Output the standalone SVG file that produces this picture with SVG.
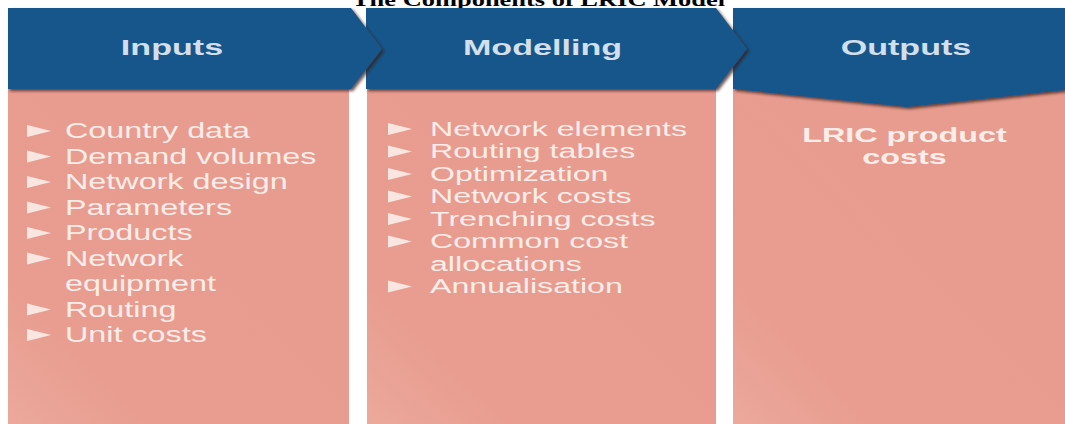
<svg xmlns="http://www.w3.org/2000/svg" width="1065" height="424" viewBox="0 0 1065 424">
  <defs>
    <filter id="hdrShadow" x="-5%" y="-10%" width="115%" height="130%">
      <feDropShadow dx="2" dy="2" stdDeviation="1.4" flood-color="#3b1d14" flood-opacity="0.75"/>
    </filter>
    <linearGradient id="bodyFill" x1="0" y1="1" x2="0.6" y2="0.4">
      <stop offset="0" stop-color="#eba99c"/>
      <stop offset="0.35" stop-color="#e89d90"/>
      <stop offset="1" stop-color="#e89c8f"/>
    </linearGradient>
    <polygon id="bullet" points="0,-6 24,0 0,6"/>
    <style>
      .hdr { fill: #14568a; }
      .body { fill: url(#bodyFill); }
      .title { font-family: "Liberation Serif", "Times New Roman", serif; font-weight: bold; font-size: 18px; fill: #000; text-anchor: middle; }
      .head { font-family: "Liberation Sans", Arial, sans-serif; font-weight: bold; font-size: 22px; fill: #d3dfea; text-anchor: middle; }
      .item { font-family: "Liberation Sans", Arial, sans-serif; font-size: 22px; fill: #fbede9; }
      .item2 { font-family: "Liberation Sans", Arial, sans-serif; font-size: 21px; fill: #fbede9; }
      .out { font-family: "Liberation Sans", Arial, sans-serif; font-weight: bold; font-size: 21px; fill: #fbede9; text-anchor: middle; }
      .bul { fill: #fae6e1; }
    </style>
  </defs>

  <rect width="1065" height="424" fill="#ffffff"/>

  <!-- title, cut off by the top edge -->
  <text class="title" transform="translate(538.5,5.5) scale(1.47,1)">The Components of LRIC Model</text>

  <!-- Outputs column -->
  <g id="node-outputs">
    <rect class="body" x="733" y="88" width="332" height="336"/>
    <polygon class="hdr" filter="url(#hdrShadow)" points="733,8 1065,8 1065,90 907,107 733,89"/>
    <text class="head" transform="translate(906,55) scale(1.55,1)">Outputs</text>
    <text class="out" transform="translate(904.5,142) scale(1.54,1)">LRIC product</text>
    <text class="out" transform="translate(904.5,164) scale(1.54,1)">costs</text>
  </g>

  <!-- Modelling column -->
  <g id="node-modelling">
    <rect class="body" x="367" y="88" width="349" height="336"/>
    <polygon class="hdr" filter="url(#hdrShadow)" points="366,8 716,8 747,49 716,89 366,89"/>
    <text class="head" transform="translate(542.5,55) scale(1.55,1)">Modelling</text>
    <g class="bul">
      <use href="#bullet" x="388" y="129"/>
      <use href="#bullet" x="388" y="151.5"/>
      <use href="#bullet" x="388" y="174"/>
      <use href="#bullet" x="388" y="196.5"/>
      <use href="#bullet" x="388" y="219"/>
      <use href="#bullet" x="388" y="241.5"/>
      <use href="#bullet" x="388" y="286.5"/>
    </g>
    <text class="item2" transform="translate(430,135.7) scale(1.53,1)">Network elements</text>
    <text class="item2" transform="translate(430,158.2) scale(1.53,1)">Routing tables</text>
    <text class="item2" transform="translate(430,180.7) scale(1.53,1)">Optimization</text>
    <text class="item2" transform="translate(430,203.2) scale(1.53,1)">Network costs</text>
    <text class="item2" transform="translate(430,225.7) scale(1.53,1)">Trenching costs</text>
    <text class="item2" transform="translate(430,248.2) scale(1.53,1)">Common cost</text>
    <text class="item2" transform="translate(430,270.7) scale(1.53,1)">allocations</text>
    <text class="item2" transform="translate(430,293.2) scale(1.53,1)">Annualisation</text>
  </g>

  <!-- Inputs column -->
  <g id="node-inputs">
    <rect class="body" x="8" y="88" width="341" height="336"/>
    <polygon class="hdr" filter="url(#hdrShadow)" points="8,8 351,8 382,49 351,89 8,89"/>
    <text class="head" transform="translate(172,55) scale(1.55,1)">Inputs</text>
    <g class="bul">
      <use href="#bullet" x="27" y="131"/>
      <use href="#bullet" x="27" y="156.5"/>
      <use href="#bullet" x="27" y="182"/>
      <use href="#bullet" x="27" y="207.5"/>
      <use href="#bullet" x="27" y="233"/>
      <use href="#bullet" x="27" y="258.5"/>
      <use href="#bullet" x="27" y="309.5"/>
      <use href="#bullet" x="27" y="335"/>
    </g>
    <text class="item" transform="translate(65,138) scale(1.47,1)">Country data</text>
    <text class="item" transform="translate(65,163.5) scale(1.47,1)">Demand volumes</text>
    <text class="item" transform="translate(65,189) scale(1.47,1)">Network design</text>
    <text class="item" transform="translate(65,214.5) scale(1.47,1)">Parameters</text>
    <text class="item" transform="translate(65,240) scale(1.47,1)">Products</text>
    <text class="item" transform="translate(65,265.5) scale(1.47,1)">Network</text>
    <text class="item" transform="translate(65,291) scale(1.47,1)">equipment</text>
    <text class="item" transform="translate(65,316.5) scale(1.47,1)">Routing</text>
    <text class="item" transform="translate(65,342) scale(1.47,1)">Unit costs</text>
  </g>
</svg>
